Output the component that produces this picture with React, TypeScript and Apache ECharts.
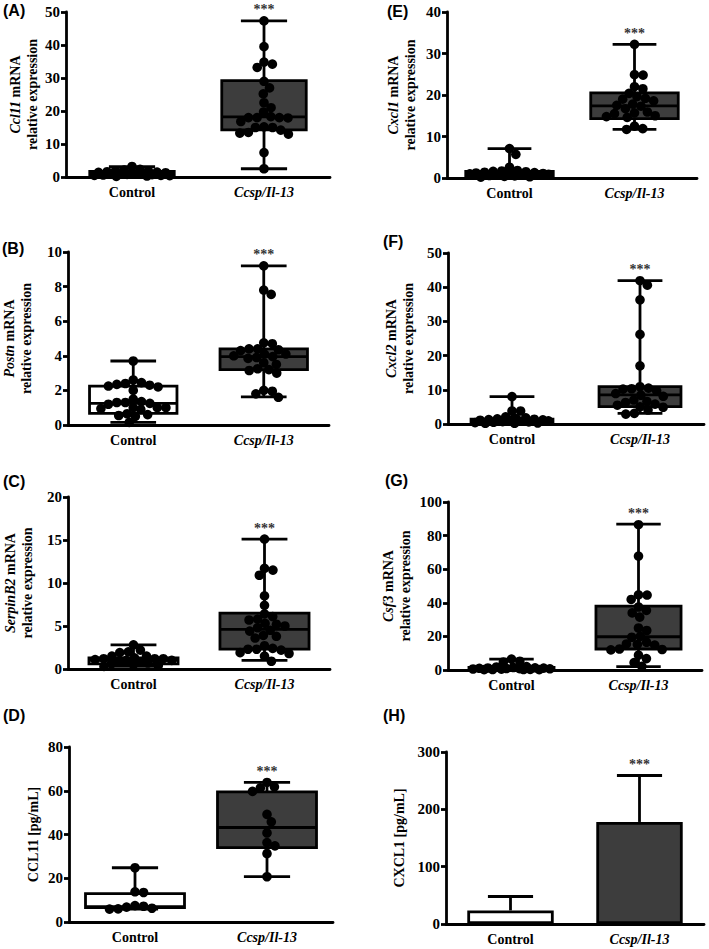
import React, { useEffect, useRef } from "react";
import * as echarts from "echarts";

const categories = ["Control", "Ccsp/Il-13"];
const significance = "***";

// (A) Ccl11 mRNA
const ccl11Control = [3.2, 2.3, 2.1, 1.9, 1.8, 1.6, 1.5, 1.4, 1.3, 1.2, 1.1, 1.0, 1.0, 0.9, 0.8, 0.7, 0.6, 0.5, 0.5, 0.4, 0.3, 0.2];
const ccl11Ccsp = [47.3, 39.5, 34.8, 34.2, 33.2, 29.0, 27.0, 25.2, 22.5, 21.0, 19.7, 18.3, 18.0, 18.0, 18.0, 17.9, 16.8, 15.2, 15.0, 15.0, 14.2, 13.5, 13.3, 13.0, 7.4, 2.5];
const ccl11Box = [[0.2, 0.6, 1.0, 1.7, 3.1], [2.5, 14.3, 18.2, 29.2, 47.3]];

// (B) Postn mRNA
const postnControl = [3.7, 2.6, 2.45, 2.4, 2.35, 2.3, 2.25, 2.2, 2.0, 1.5, 1.35, 1.3, 1.3, 1.25, 1.2, 1.0, 1.0, 1.0, 0.95, 0.9, 0.65, 0.6, 0.55, 0.5, 0.15];
const postnCcsp = [9.2, 7.8, 7.55, 4.75, 4.7, 4.4, 4.4, 4.35, 4.3, 4.1, 4.1, 4.0, 3.95, 3.9, 3.85, 3.6, 3.5, 3.25, 3.2, 3.15, 3.0, 2.0, 1.95, 1.8, 1.6];
const postnBox = [[0.15, 0.67, 1.25, 2.25, 3.7], [1.62, 3.2, 3.95, 4.4, 9.2]];

// (C) SerpinB2 mRNA
const serpinb2Control = [2.8, 2.2, 2.0, 1.9, 1.5, 1.5, 1.3, 1.2, 1.2, 1.2, 1.1, 1.0, 1.0, 0.9, 0.8, 0.7, 0.6, 0.5, 0.4, 0.3];
const serpinb2Ccsp = [15.1, 11.7, 11.5, 10.9, 8.5, 7.4, 6.4, 6.1, 5.8, 5.7, 5.3, 5.2, 5.0, 4.8, 4.5, 4.4, 3.9, 3.8, 3.6, 2.7, 2.4, 2.3, 2.3, 2.2, 1.9, 1.8, 1.5, 0.9];
const serpinb2Box = [[0.3, 0.6, 1.0, 1.3, 2.8], [1.0, 2.3, 4.6, 6.5, 15.1]];

// (D) CCL11 protein
const ccl11ProteinControl = [24.8, 13.8, 13.5, 7.5, 7.2, 6.8, 6.3, 6.0, 5.9];
const ccl11ProteinCcsp = [63.8, 61.8, 61.3, 59.7, 49.2, 45.8, 40.7, 36.3, 34.8, 31.3, 20.7];
const ccl11ProteinBox = [[5.9, 6.6, 7.0, 13.0, 24.8], [20.7, 34.0, 43.2, 59.5, 63.8]];

// (E) Cxcl1 mRNA
const cxcl1Control = [7.1, 5.7, 2.6, 1.8, 1.7, 1.6, 1.5, 1.4, 1.3, 1.2, 1.1, 1.0, 1.0, 0.9, 0.8, 0.7, 0.6, 0.5, 0.4, 0.3, 0.2];
const cxcl1Ccsp = [32.2, 24.9, 24.8, 22.0, 21.5, 20.4, 19.6, 19.2, 19.0, 18.6, 17.8, 17.5, 17.3, 16.7, 15.9, 15.7, 15.5, 15.0, 14.8, 14.6, 12.5, 11.9, 11.7];
const cxcl1Box = [[0.2, 0.6, 1.0, 1.6, 7.1], [11.7, 14.3, 17.4, 20.5, 32.2]];

// (F) Cxcl2 mRNA
const cxcl2Control = [8.0, 3.8, 3.8, 2.1, 1.8, 1.6, 1.5, 1.4, 1.3, 1.2, 1.1, 1.0, 0.9, 0.8, 0.7, 0.6, 0.5, 0.4, 0.3, 0.2, 0.2];
const cxcl2Ccsp = [41.9, 40.6, 36.3, 26.2, 17.0, 10.9, 10.5, 10.3, 10.2, 9.7, 8.9, 8.4, 8.1, 7.0, 6.6, 6.3, 5.8, 5.5, 5.0, 4.9, 4.1, 3.1, 2.9];
const cxcl2Box = [[0.2, 0.5, 0.9, 1.4, 8.0], [3.1, 5.1, 8.5, 10.9, 41.9]];

// (G) Csf3 mRNA
const csf3Control = [6.5, 5.2, 4.8, 2.0, 1.8, 1.5, 1.3, 1.2, 1.1, 1.0, 0.9, 0.8, 0.7, 0.6, 0.5, 0.4, 0.3, 0.3, 0.2, 0.2];
const csf3Ccsp = [86.5, 67.8, 44.7, 44.6, 42.0, 37.5, 35.5, 34.0, 31.5, 25.0, 23.5, 20.0, 19.5, 16.5, 15.5, 15.2, 14.8, 12.5, 12.2, 12.0, 8.8, 6.8, 4.4, 2.2];
const csf3Box = [[0.2, 0.4, 0.8, 1.5, 6.5], [2.0, 12.5, 19.8, 38.0, 86.8]];

// (H) CXCL1 protein (mean + upper error)
const cxcl1ProteinMean = [23.7, 178];
const cxcl1ProteinUpper = [48, 259];

// y-axis ranges
const yMaxA = 50, yStepA = 10;
const yMaxB = 10, yStepB = 2;
const yMaxC = 20, yStepC = 5;
const yMaxD = 80, yStepD = 20;
const yMaxE = 40, yStepE = 10;
const yMaxF = 50, yStepF = 10;
const yMaxG = 100, yStepG = 20;
const yMaxH = 300, yStepH = 100;

const SERIF = "Liberation Serif";
const SANS = "Liberation Sans";
const DARK = "#3d3d3d";
const LW = 2.8;
const DOT_R = 4.8;
const TITLE_FS = 14;

const boxPanels = [
  { label: "(A)", gene: "Ccl11", title: null, control: ccl11Control, ccsp: ccl11Ccsp, box: ccl11Box, yMax: yMaxA, yStep: yStepA,
    grid: { left: 66, top: 12, width: 264, height: 165 }, nameGap: 25, boxFrac: 0.64, labelPos: [3, 2] },
  { label: "(B)", gene: "Postn", title: null, control: postnControl, ccsp: postnCcsp, box: postnBox, yMax: yMaxB, yStep: yStepB,
    grid: { left: 67, top: 252, width: 262, height: 173 }, nameGap: 33, boxFrac: 0.67, labelPos: [2, 240] },
  { label: "(C)", gene: "SerpinB2", title: null, control: serpinb2Control, ccsp: serpinb2Ccsp, box: serpinb2Box, yMax: yMaxC, yStep: yStepC,
    grid: { left: 68, top: 497, width: 262, height: 172 }, nameGap: 32, boxFrac: 0.68, labelPos: [3, 473] },
  { label: "(D)", gene: null, title: "CCL11 [pg/mL]", control: ccl11ProteinControl, ccsp: ccl11ProteinCcsp, box: ccl11ProteinBox, yMax: yMaxD, yStep: yStepD,
    grid: { left: 69, top: 747, width: 264, height: 175 }, nameGap: 27, boxFrac: 0.75, labelPos: [3, 707] },
  { label: "(E)", gene: "Cxcl1", title: null, control: cxcl1Control, ccsp: cxcl1Ccsp, box: cxcl1Box, yMax: yMaxE, yStep: yStepE,
    grid: { left: 447, top: 12, width: 250, height: 166 }, nameGap: 28, boxFrac: 0.7, labelPos: [387, 3] },
  { label: "(F)", gene: "Cxcl2", title: null, control: cxcl2Control, ccsp: cxcl2Ccsp, box: cxcl2Box, yMax: yMaxF, yStep: yStepF,
    grid: { left: 448, top: 253, width: 256, height: 171 }, nameGap: 31, boxFrac: 0.64, labelPos: [383, 233] },
  { label: "(G)", gene: "Csf3", title: null, control: csf3Control, ccsp: csf3Ccsp, box: csf3Box, yMax: yMaxG, yStep: yStepG,
    grid: { left: 448, top: 502, width: 254, height: 168 }, nameGap: 34, boxFrac: 0.67, labelPos: [385, 472] },
];
const barPanel = { label: "(H)", title: "CXCL1 [pg/mL]", mean: cxcl1ProteinMean, upper: cxcl1ProteinUpper, yMax: yMaxH, yStep: yStepH,
  grid: { left: 446, top: 752, width: 258, height: 172 }, nameGap: 38, labelPos: [383, 707] };

function beeswarm(values: number[], pxPerUnit: number, maxHalf: number): number[] {
  const order = values.map((_, i) => i).sort((a, b) => values[b] - values[a]);
  const placed: { x: number; y: number }[] = [];
  const out = new Array(values.length).fill(0);
  for (const i of order) {
    const y = values[i] * pxPerUnit;
    let D = 8.6;
    let chosen = 0;
    for (let attempt = 0; attempt < 40; attempt++) {
      const cands = [0];
      for (const p of placed) {
        const dy = Math.abs(p.y - y);
        if (dy < D) {
          const dx = Math.sqrt(D * D - dy * dy);
          cands.push(p.x + dx, p.x - dx);
        }
      }
      const valid = cands.filter(
        (x) => Math.abs(x) <= maxHalf + 1e-6 && placed.every((p) => (p.x - x) ** 2 + (p.y - y) ** 2 >= D * D - 1e-3)
      );
      if (valid.length) {
        valid.sort((a, b) => Math.abs(a) - Math.abs(b));
        chosen = valid[0];
        break;
      }
      D *= 0.9;
    }
    placed.push({ x: chosen, y });
    out[i] = chosen;
  }
  return out;
}

const xLabelRich = {
  n: { fontFamily: SERIF, fontWeight: "bold", fontSize: 14, color: "#000" },
  i: { fontFamily: SERIF, fontWeight: "bold", fontStyle: "italic", fontSize: 14, color: "#000" },
};

function makeXAxis(gridIndex: number) {
  return {
    gridIndex,
    type: "category",
    data: categories,
    boundaryGap: true,
    axisLine: { lineStyle: { color: "#000", width: LW } },
    axisTick: { alignWithLabel: true, length: 5, lineStyle: { color: "#000", width: LW } },
    axisLabel: {
      margin: 8,
      formatter: (v: string) => (v === categories[0] ? `{n|${v}}` : `{i|${v}}`),
      rich: xLabelRich,
    },
    splitLine: { show: false },
  };
}

function makeYAxis(gridIndex: number, max: number, step: number, name: string, nameGap: number) {
  return {
    gridIndex,
    type: "value",
    min: 0,
    max,
    interval: step,
    axisLine: { show: true, lineStyle: { color: "#000", width: LW } },
    axisTick: { show: true, length: 5, lineStyle: { color: "#000", width: LW } },
    axisLabel: {
      margin: 6,
      formatter: (v: number) => `{y|${v}}`,
      rich: { y: { fontFamily: SERIF, fontWeight: "bold", fontSize: 15, color: "#000" } },
    },
    splitLine: { show: false },
    name,
    nameLocation: "middle",
    nameGap,
    nameTextStyle: {
      fontFamily: SERIF,
      fontWeight: "bold",
      fontSize: TITLE_FS,
      lineHeight: 17,
      color: "#000",
      rich: {
        g: { fontFamily: SERIF, fontWeight: "bold", fontStyle: "italic", fontSize: TITLE_FS, lineHeight: 17, color: "#000" },
        t: { fontFamily: SERIF, fontWeight: "bold", fontSize: TITLE_FS, lineHeight: 17, color: "#000" },
      },
    },
  };
}

function sigSeries(idx: number, value: number) {
  return {
    type: "custom",
    xAxisIndex: idx,
    yAxisIndex: idx,
    z: 5,
    data: [[1, value]],
    renderItem: (_p: any, api: any) => {
      const c = api.coord([api.value(0), api.value(1)]);
      return {
        type: "text",
        x: c[0],
        y: c[1] - 4,
        style: { text: significance, fill: "#333", font: `bold 14px ${SERIF}`, align: "center", verticalAlign: "bottom" },
      };
    },
  };
}

function buildOption() {
  const grids: any[] = [];
  const xAxes: any[] = [];
  const yAxes: any[] = [];
  const series: any[] = [];
  const graphics: any[] = [];

  boxPanels.forEach((p, idx) => {
    grids.push({ ...p.grid, containLabel: false });
    xAxes.push(makeXAxis(idx));
    const name = p.gene ? `{g|${p.gene}} {t|mRNA}\n{t|relative expression}` : `{t|${p.title}}`;
    yAxes.push(makeYAxis(idx, p.yMax, p.yStep, name, p.nameGap));
    const pxPerUnit = p.grid.height / p.yMax;
    const band = p.grid.width / 2;
    const maxHalf = (band * p.boxFrac) / 2 - 4;
    const boxFrac = p.boxFrac;
    series.push({
      type: "custom",
      xAxisIndex: idx,
      yAxisIndex: idx,
      z: 2,
      data: p.box.map((b, i) => [i, ...b]),
      renderItem: (_params: any, api: any) => {
        const cat = api.value(0);
        const pMin = api.coord([cat, api.value(1)]);
        const pQ1 = api.coord([cat, api.value(2)]);
        const pMed = api.coord([cat, api.value(3)]);
        const pQ3 = api.coord([cat, api.value(4)]);
        const pMax = api.coord([cat, api.value(5)]);
        const bandW = api.size([1, 0])[0];
        const x = pMed[0];
        const bw = bandW * boxFrac;
        const cw = bandW * 0.35;
        const fill = cat === 0 ? "#fff" : DARK;
        const st = { stroke: "#000", lineWidth: LW };
        return {
          type: "group",
          children: [
            { type: "line", shape: { x1: x, y1: pMin[1], x2: x, y2: pMax[1] }, style: st },
            { type: "line", shape: { x1: x - cw / 2, y1: pMin[1], x2: x + cw / 2, y2: pMin[1] }, style: st },
            { type: "line", shape: { x1: x - cw / 2, y1: pMax[1], x2: x + cw / 2, y2: pMax[1] }, style: st },
            { type: "rect", shape: { x: x - bw / 2, y: pQ3[1], width: bw, height: pQ1[1] - pQ3[1] }, style: { fill, stroke: "#000", lineWidth: LW } },
            { type: "line", shape: { x1: x - bw / 2, y1: pMed[1], x2: x + bw / 2, y2: pMed[1] }, style: st },
          ],
        };
      },
    });
    const groups = [p.control, p.ccsp];
    const dotData: number[][] = [];
    groups.forEach((vals, gi) => {
      const offs = beeswarm(vals, pxPerUnit, maxHalf);
      vals.forEach((v, k) => dotData.push([gi, v, offs[k]]));
    });
    series.push({
      type: "custom",
      xAxisIndex: idx,
      yAxisIndex: idx,
      z: 3,
      data: dotData,
      renderItem: (_params: any, api: any) => {
        const c = api.coord([api.value(0), api.value(1)]);
        return { type: "circle", shape: { cx: c[0] + api.value(2), cy: c[1], r: DOT_R }, style: { fill: "#000" } };
      },
    });
    series.push(sigSeries(idx, p.box[1][4]));
    graphics.push({
      type: "text",
      left: p.labelPos[0],
      top: p.labelPos[1],
      style: { text: p.label, font: `bold 16px ${SANS}`, fill: "#000" },
    });
  });

  const hi = boxPanels.length;
  grids.push({ ...barPanel.grid, containLabel: false });
  xAxes.push(makeXAxis(hi));
  yAxes.push(makeYAxis(hi, barPanel.yMax, barPanel.yStep, `{t|${barPanel.title}}`, barPanel.nameGap));
  series.push({
    type: "bar",
    xAxisIndex: hi,
    yAxisIndex: hi,
    barWidth: "67%",
    z: 2,
    data: barPanel.mean.map((v, i) => ({
      value: v,
      itemStyle: { color: i === 0 ? "#fff" : DARK, borderColor: "#000", borderWidth: LW },
    })),
  });
  series.push({
    type: "custom",
    xAxisIndex: hi,
    yAxisIndex: hi,
    z: 3,
    data: barPanel.mean.map((m, i) => [i, m, barPanel.upper[i]]),
    renderItem: (_params: any, api: any) => {
      const cat = api.value(0);
      const pm = api.coord([cat, api.value(1)]);
      const pu = api.coord([cat, api.value(2)]);
      const bandW = api.size([1, 0])[0];
      const cw = bandW * 0.35;
      const st = { stroke: "#000", lineWidth: LW };
      return {
        type: "group",
        children: [
          { type: "line", shape: { x1: pm[0], y1: pm[1], x2: pu[0], y2: pu[1] }, style: st },
          { type: "line", shape: { x1: pu[0] - cw / 2, y1: pu[1], x2: pu[0] + cw / 2, y2: pu[1] }, style: st },
        ],
      };
    },
  });
  series.push(sigSeries(hi, barPanel.upper[1]));
  graphics.push({
    type: "text",
    left: barPanel.labelPos[0],
    top: barPanel.labelPos[1],
    style: { text: barPanel.label, font: `bold 16px ${SANS}`, fill: "#000" },
  });

  return {
    animation: false,
    backgroundColor: "#fff",
    grid: grids,
    xAxis: xAxes,
    yAxis: yAxes,
    series,
    graphic: graphics,
  };
}

export default function App() {
  const ref = useRef<HTMLDivElement>(null);
  useEffect(() => {
    const chart = echarts.init(ref.current!, null, { renderer: "svg" });
    chart.setOption(buildOption() as any);
    return () => chart.dispose();
  }, []);
  return (
    <div
      ref={ref}
      style={{ position: "fixed", left: 0, top: 0, width: 709, height: 949, background: "#fff" }}
    />
  );
}
